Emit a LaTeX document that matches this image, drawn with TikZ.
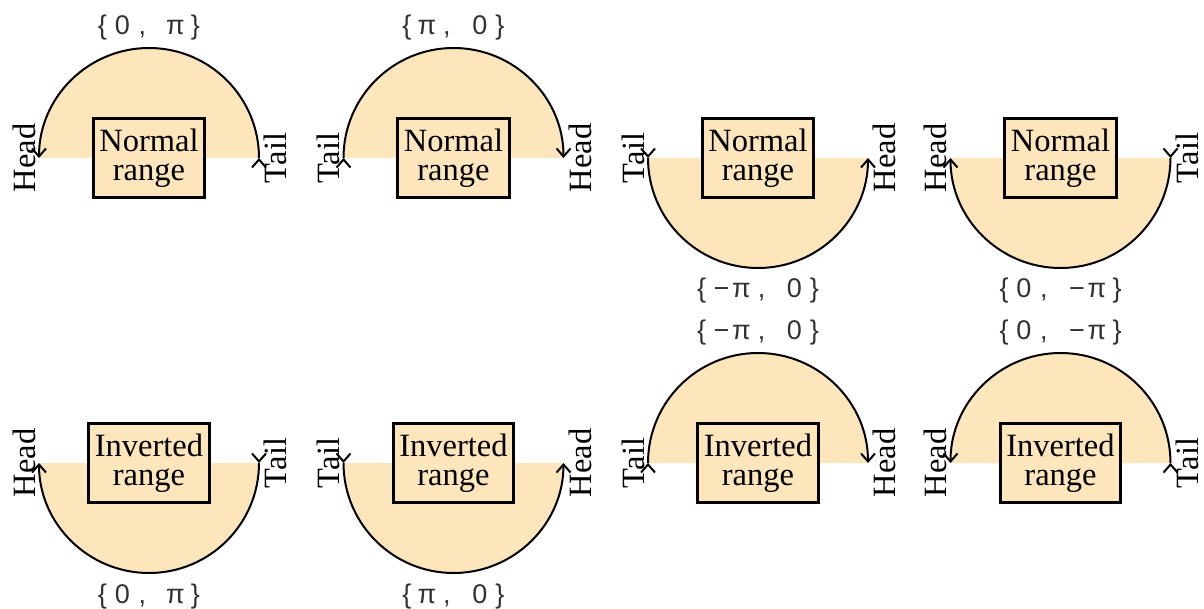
\documentclass[tikz,border=0pt]{standalone}
\usepackage{fontspec}
\setmainfont{Liberation Serif}
\newfontfamily\lblfont{Liberation Sans}
\usetikzlibrary{arrows.meta,calc}
\definecolor{rngfill}{RGB}{253,229,188}
\definecolor{lblgray}{RGB}{50,50,50}
\tikzset{
  rngbox/.style={draw, line width=3pt, fill=rngfill, align=center, inner xsep=6pt, inner ysep=0pt,
    minimum height=79pt, font=\fontsize{32.5}{29.3}\selectfont},
  arcline/.style={line width=2pt, -{Straight Barb[length=8pt,width=14pt]}},
  tailmark/.style={line width=2pt, -{Straight Barb[length=8pt,width=14pt]}},
  sidelbl/.style={rotate=90, inner sep=0pt, font=\fontsize{32.5}{32.5}\selectfont},
  rnglbl/.style={anchor=base, inner sep=0pt, text=lblgray, font=\fontsize{27}{27}\lblfont},
}
\newcommand\lc[1]{\makebox[20pt][c]{#1}}
\newcommand\lsp{\hspace*{13pt}}
% #1 name, #2 cx, #3 cy, #4 side (1 upper / -1 lower), #5 start angle, #6 end angle,
% #7 left text, #8 right text, #9 box text
\newcommand\rngpanel[9]{%
  \coordinate (#1c) at (#2,#3);
  \coordinate (#1l) at ($(#1c)+(-110,0)$);
  \coordinate (#1r) at ($(#1c)+(110,0)$);
  \coordinate (#1s) at ($(#1c)+(#5:110)$);
  \coordinate (#1sb) at ($(#1s)+(0,-#4*0.6)$);
  \fill[rngfill] (#1r) arc[start angle=0, end angle={#4*180}, radius=110] -- cycle;
  \draw[arcline] (#1s) arc[start angle=#5, end angle=#6, radius=110];
  \draw[tailmark] (#1sb) -- (#1s);
  \node[rngbox] (#1box) at (#1c) {#9};
  \node[sidelbl, anchor=south] (#1lt) at ($(#1l)+(-3,0)$) {#7};
  \node[sidelbl, anchor=north] (#1rt) at ($(#1r)+(5,0)$) {#8};
}
\begin{document}
\begin{tikzpicture}[x=1pt,y=1pt]
\useasboundingbox (0,0) rectangle (1204,608);
% top row
\rngpanel{a}{149}{450}{1}{0}{180}{Head}{Tail}{Normal\\range}
\node[rnglbl] (alab) at ($(ac)+(0,123)$) {\lc{\{}\lc{0}\lc{,}\lsp\lc{π}\lc{\}}};
\rngpanel{b}{453.5}{450}{1}{180}{0}{Tail}{Head}{Normal\\range}
\node[rnglbl] (blab) at ($(bc)+(0,123)$) {\lc{\{}\lc{π}\lc{,}\lsp\lc{0}\lc{\}}};
\rngpanel{c}{758}{450}{-1}{-180}{0}{Tail}{Head}{Normal\\range}
\node[rnglbl] (clab) at ($(cc)+(0,-140)$) {\lc{\{}\lc{−}\lc{π}\lc{,}\lsp\lc{0}\lc{\}}};
\rngpanel{d}{1060.5}{450}{-1}{0}{-180}{Head}{Tail}{Normal\\range}
\node[rnglbl] (dlab) at ($(dc)+(0,-140)$) {\lc{\{}\lc{0}\lc{,}\lsp\lc{−}\lc{π}\lc{\}}};
% bottom row
\rngpanel{e}{149}{145}{-1}{0}{-180}{Head}{Tail}{Inverted\\range}
\node[rnglbl] (elab) at ($(ec)+(0,-140)$) {\lc{\{}\lc{0}\lc{,}\lsp\lc{π}\lc{\}}};
\rngpanel{f}{453.5}{145}{-1}{-180}{0}{Tail}{Head}{Inverted\\range}
\node[rnglbl] (flab) at ($(fc)+(0,-140)$) {\lc{\{}\lc{π}\lc{,}\lsp\lc{0}\lc{\}}};
\rngpanel{g}{758}{145}{1}{180}{0}{Tail}{Head}{Inverted\\range}
\node[rnglbl] (glab) at ($(gc)+(0,123)$) {\lc{\{}\lc{−}\lc{π}\lc{,}\lsp\lc{0}\lc{\}}};
\rngpanel{h}{1060.5}{145}{1}{0}{180}{Head}{Tail}{Inverted\\range}
\node[rnglbl] (hlab) at ($(hc)+(0,123)$) {\lc{\{}\lc{0}\lc{,}\lsp\lc{−}\lc{π}\lc{\}}};
\end{tikzpicture}
\end{document}
